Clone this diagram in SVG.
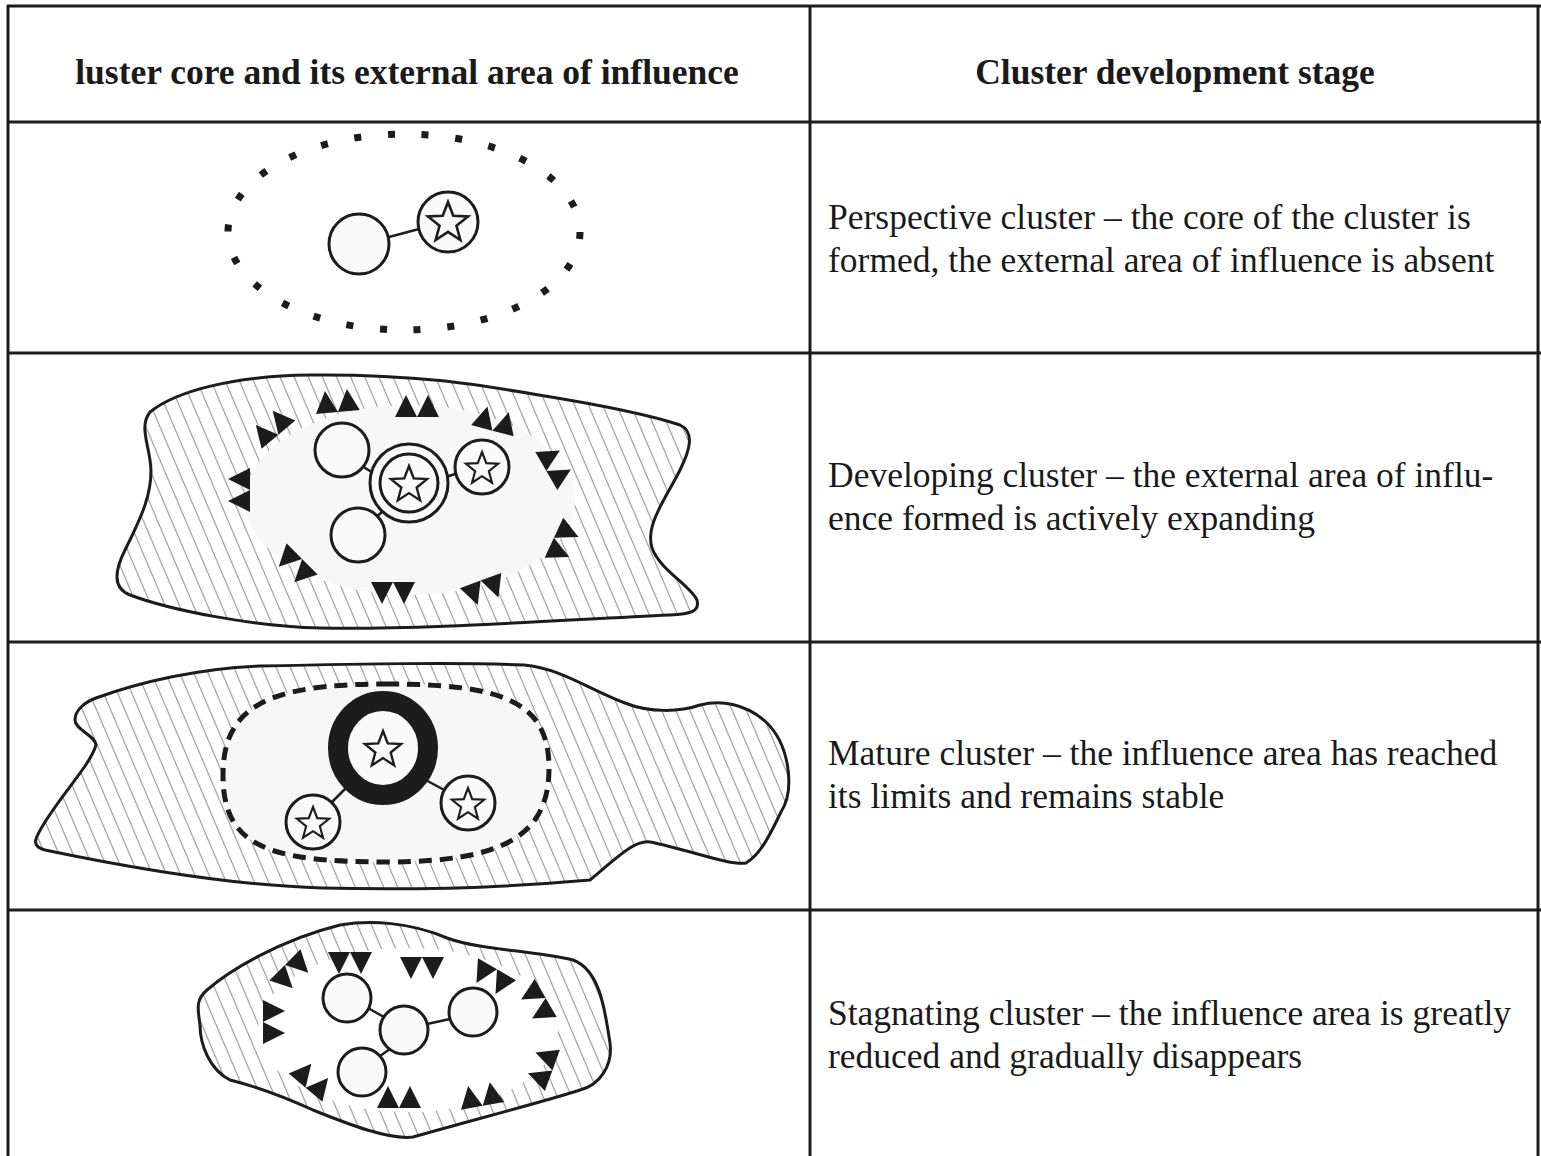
<svg xmlns="http://www.w3.org/2000/svg" width="1541" height="1156" viewBox="0 0 1541 1156">
  <defs>
    <style>
      .grid { stroke: #1c1c1c; stroke-width: 3; fill: none; }
      .head { font-family: "Liberation Serif", "Times New Roman", serif; font-weight: bold; font-size: 35.5px; fill: #1a1a1a; text-anchor: middle; }
      .desc { font-family: "Liberation Serif", "Times New Roman", serif; font-size: 35.5px; fill: #1a1a1a; }
      .blob { fill: url(#hatch); stroke: #1c1c1c; stroke-width: 3; }
      .core { fill: #f7f7f7; stroke: none; }
      .node { fill: #fafafa; stroke: #1c1c1c; stroke-width: 3; }
      .link { stroke: #1c1c1c; stroke-width: 2.5; fill: none; }
      .star { fill: #fafafa; stroke: #1c1c1c; stroke-width: 2.5; stroke-linejoin: miter; }
      .tri { fill: #1c1c1c; }
    </style>
    <pattern id="hatch" width="13" height="40" patternUnits="userSpaceOnUse" patternTransform="rotate(-23)">
      <rect width="13" height="40" fill="#ffffff"/>
      <line x1="6.5" y1="-1" x2="6.5" y2="41" stroke="#9a9a9a" stroke-width="1.2"/>
    </pattern>
    <!-- five-pointed star, outer radius 20 -->
    <path id="star" d="M0,-20 L5,-6.88 L19.02,-6.18 L8.08,2.63 L11.76,16.18 L0,8.5 L-11.76,16.18 L-8.08,2.63 L-19.02,-6.18 L-5,-6.88 Z"/>
    <!-- pair of triangles, pointing up, centred on the origin -->
    <path id="pair" d="M-22,10 L-11,-12 L0,10 Z M0,10 L11,-12 L22,10 Z"/>
  </defs>

  <rect width="1541" height="1156" fill="#ffffff"/>

  <!-- table grid -->
  <g id="table">
    <line class="grid" x1="7" y1="6" x2="1541" y2="6"/>
    <line class="grid" x1="7" y1="122" x2="1541" y2="122"/>
    <line class="grid" x1="7" y1="353" x2="1541" y2="353"/>
    <line class="grid" x1="7" y1="642" x2="1541" y2="642"/>
    <line class="grid" x1="7" y1="910" x2="1541" y2="910"/>
    <line class="grid" x1="8" y1="5" x2="8" y2="1156"/>
    <line class="grid" x1="810" y1="5" x2="810" y2="1156"/>
    <line class="grid" x1="1538" y1="5" x2="1538" y2="1156"/>
  </g>

  <!-- header -->
  <g id="header">
    <text class="head" x="407" y="84">luster core and its external area of influence</text>
    <text class="head" x="1175" y="84">Cluster development stage</text>
  </g>

  <!-- stage 1: perspective cluster -->
  <g id="perspective">
    <ellipse cx="404" cy="232" rx="176" ry="98" fill="none" stroke="#1c1c1c" stroke-width="7" stroke-dasharray="7 26.8"/>
    <line class="link" x1="389" y1="237" x2="419" y2="229"/>
    <circle class="node" cx="359" cy="244" r="30"/>
    <circle class="node" cx="448" cy="222" r="30"/>
    <use href="#star" class="star" transform="translate(448,223) scale(1.05)"/>
  </g>

  <!-- stage 2: developing cluster -->
  <g id="developing">
    <path class="blob" d="M150,412 C175,392 230,376 310,375 C420,374 480,385 545,396 C600,405 650,415 680,425 C695,432 690,450 680,470 C665,500 645,525 652,548 C660,570 690,585 697,600 C700,612 690,614 670,615 C560,620 420,630 320,628 C250,626 170,610 130,595 C112,588 115,570 125,550 C140,520 155,490 150,460 C147,440 140,425 150,412 Z"/>
    <ellipse class="core" cx="410" cy="500" rx="165" ry="95"/>
    <use href="#pair" class="tri" transform="translate(337,402) rotate(-5)"/>
    <use href="#pair" class="tri" transform="translate(417,407)"/>
    <use href="#pair" class="tri" transform="translate(495,421) rotate(15)"/>
    <use href="#pair" class="tri" transform="translate(272,427) rotate(-40)"/>
    <use href="#pair" class="tri" transform="translate(555,466) rotate(60)"/>
    <use href="#pair" class="tri" transform="translate(240,490) rotate(-90)"/>
    <use href="#pair" class="tri" transform="translate(563,542) rotate(115)"/>
    <use href="#pair" class="tri" transform="translate(295,566) rotate(-135)"/>
    <use href="#pair" class="tri" transform="translate(393,592) rotate(180)"/>
    <use href="#pair" class="tri" transform="translate(484,590) rotate(160)"/>
    <line class="link" x1="362" y1="466" x2="378" y2="476"/>
    <line class="link" x1="375" y1="518" x2="382" y2="512"/>
    <line class="link" x1="446" y1="477" x2="458" y2="473"/>
    <circle class="node" cx="342" cy="450" r="27"/>
    <circle class="node" cx="358" cy="535" r="27"/>
    <circle class="node" cx="409" cy="483" r="39"/>
    <circle class="node" cx="409" cy="483" r="29"/>
    <use href="#star" class="star" transform="translate(409,485) scale(0.95)"/>
    <circle class="node" cx="482" cy="467" r="27"/>
    <use href="#star" class="star" transform="translate(482,469) scale(0.85)"/>
  </g>

  <!-- stage 3: mature cluster -->
  <g id="mature">
    <path class="blob" d="M96,698 C140,682 200,668 260,666 C360,664 460,662 524,665 C560,668 590,690 625,703 C650,713 680,712 700,705 C720,700 745,703 766,722 C790,745 795,790 781,812 C770,835 760,855 746,863 C730,866 690,850 650,842 C635,840 620,855 590,880 C500,888 400,890 322,888 C250,886 150,872 45,850 C30,846 35,838 45,822 C65,790 90,765 96,745 C95,735 75,730 75,720 C75,710 85,702 96,698 Z"/>
    <path class="core" d="M386,684 C500,684 549,700 549,768 C549,835 505,862 386,862 C265,862 223,845 223,775 C223,705 270,684 386,684 Z" style="stroke:#1c1c1c;stroke-width:5;stroke-dasharray:13 8"/>
    <line class="link" x1="346" y1="788" x2="328" y2="806"/>
    <line class="link" x1="422" y1="778" x2="448" y2="792"/>
    <ellipse cx="383" cy="748" rx="45" ry="47" fill="#fafafa" stroke="#1c1c1c" stroke-width="20"/>
    <use href="#star" class="star" transform="translate(383,750) scale(0.95)"/>
    <circle class="node" cx="313" cy="822" r="27"/>
    <use href="#star" class="star" transform="translate(313,824) scale(0.85)"/>
    <circle class="node" cx="468" cy="803" r="27"/>
    <use href="#star" class="star" transform="translate(468,805) scale(0.85)"/>
  </g>

  <!-- stage 4: stagnating cluster -->
  <g id="stagnating">
    <path class="blob" d="M207,990 C230,970 280,940 340,925 C370,920 410,922 447,938 C480,950 530,950 573,960 C600,970 605,1010 610,1043 C613,1065 600,1085 580,1090 C550,1100 480,1118 413,1137 C390,1140 350,1125 313,1110 C280,1095 250,1085 230,1080 C210,1070 200,1045 200,1025 C198,1010 195,1000 207,990 Z"/>
    <ellipse cx="408" cy="1030" rx="150" ry="82" fill="#ffffff"/>
    <use href="#pair" class="tri" transform="translate(292,972) rotate(135)"/>
    <use href="#pair" class="tri" transform="translate(350,962) rotate(180)"/>
    <use href="#pair" class="tri" transform="translate(422,967) rotate(180)"/>
    <use href="#pair" class="tri" transform="translate(492,978) rotate(210)"/>
    <use href="#pair" class="tri" transform="translate(537,1003) rotate(240)"/>
    <use href="#pair" class="tri" transform="translate(273,1022) rotate(90)"/>
    <use href="#pair" class="tri" transform="translate(543,1067) rotate(290)"/>
    <use href="#pair" class="tri" transform="translate(312,1080) rotate(40)"/>
    <use href="#pair" class="tri" transform="translate(399,1098)"/>
    <use href="#pair" class="tri" transform="translate(481,1096) rotate(-10)"/>
    <line class="link" x1="368" y1="1008" x2="384" y2="1017"/>
    <line class="link" x1="427" y1="1024" x2="450" y2="1019"/>
    <line class="link" x1="390" y1="1049" x2="380" y2="1056"/>
    <circle class="node" cx="347" cy="998" r="24"/>
    <circle class="node" cx="404" cy="1030" r="24"/>
    <circle class="node" cx="473" cy="1012" r="24"/>
    <circle class="node" cx="362" cy="1072" r="24"/>
  </g>

  <!-- stage descriptions -->
  <g id="descriptions">
    <text class="desc" x="828" y="229">Perspective cluster – the core of the cluster is</text>
    <text class="desc" x="828" y="272">formed, the external area of influence is absent</text>
    <text class="desc" x="828" y="487">Developing cluster – the external area of influ-</text>
    <text class="desc" x="828" y="530">ence formed is actively expanding</text>
    <text class="desc" x="828" y="765">Mature cluster – the influence area has reached</text>
    <text class="desc" x="828" y="808">its limits and remains stable</text>
    <text class="desc" x="828" y="1025">Stagnating cluster – the influence area is greatly</text>
    <text class="desc" x="828" y="1068">reduced and gradually disappears</text>
  </g>
</svg>
